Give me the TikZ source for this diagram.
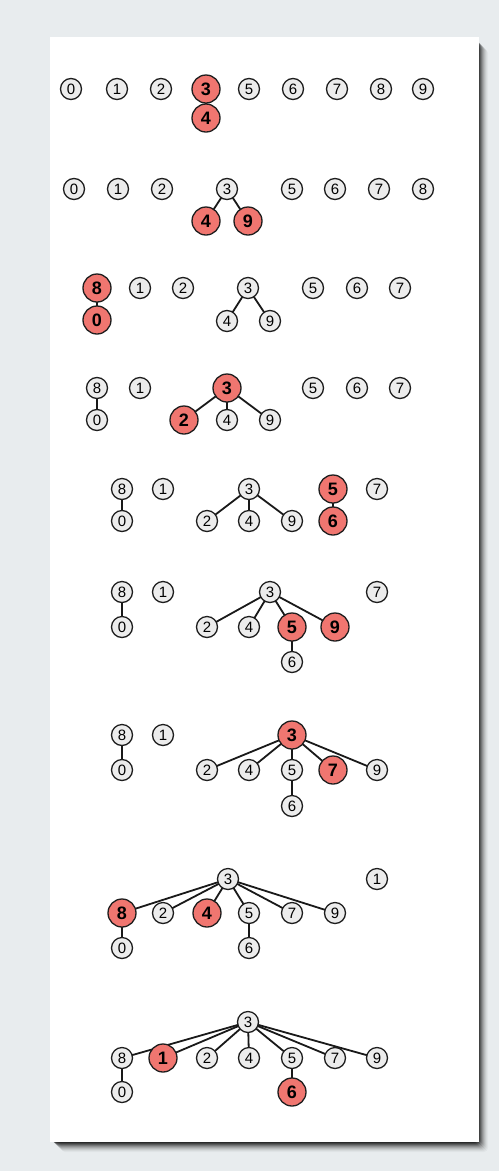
\documentclass[tikz,border=0pt]{standalone}
\usepackage{fontspec}
\setmainfont{Liberation Sans}
\pgfdeclarelayer{bg}
\pgfdeclarelayer{edges}
\pgfsetlayers{bg,edges,main}
\definecolor{pagebg}{RGB}{232,236,238}
\definecolor{nodefill}{RGB}{236,236,236}
\definecolor{nodered}{RGB}{240,118,112}
\definecolor{nodeline}{RGB}{30,30,30}
\tikzset{
  pn/.style={circle,draw=nodeline,fill=nodefill,line width=1.3pt,minimum size=21pt,inner sep=0pt,font=\fontsize{15}{15}\selectfont},
  rn/.style={circle,draw=nodeline,fill=nodered,line width=1.3pt,minimum size=28pt,inner sep=0pt,font=\fontsize{18}{18}\selectfont\bfseries},
  ed/.style={draw=black!90,line width=1.8pt}
}
\begin{document}
\begin{tikzpicture}[x=1pt,y=-1pt]
\begin{pgfonlayer}{bg}
\fill[pagebg] (0,0) rectangle (499,1171);
\foreach \o/\a in {12/0.03,11/0.04,10/0.06,9/0.08,8/0.10,7/0.13,6/0.17,5/0.22,4/0.28,3/0.35,2/0.4}{
  \fill[black,opacity=\a,rounded corners=4pt] (50+\o-1,37+\o) rectangle (479+\o-3,1142+\o-2);
}
\fill[white] (50,37) rectangle (479,1142);
\end{pgfonlayer}
% Row 1
\node[pn] (a0) at (71,89) {0};
\node[pn] (a1) at (117,89) {1};
\node[pn] (a2) at (161,89) {2};
\node[rn] (a3) at (206,89) {3};
\node[rn] (a4) at (206,118) {4};
\node[pn] (a5) at (249,89) {5};
\node[pn] (a6) at (293,89) {6};
\node[pn] (a7) at (337,89) {7};
\node[pn] (a8) at (381,89) {8};
\node[pn] (a9) at (423,89) {9};
% Row 2
\node[pn] (b0) at (74,189) {0};
\node[pn] (b1) at (118,189) {1};
\node[pn] (b2) at (162,189) {2};
\node[pn] (b3) at (227,189) {3};
\node[rn] (b4) at (206,221) {4};
\node[rn] (b9) at (248,221) {9};
\node[pn] (b5) at (292,189) {5};
\node[pn] (b6) at (335,189) {6};
\node[pn] (b7) at (379,189) {7};
\node[pn] (b8) at (423,189) {8};
% Row 3
\node[rn] (c8) at (97,288) {8};
\node[rn] (c0) at (97,320) {0};
\node[pn] (c1) at (140,288) {1};
\node[pn] (c2) at (183,288) {2};
\node[pn] (c3) at (248,288) {3};
\node[pn] (c4) at (227,321) {4};
\node[pn] (c9) at (270,321) {9};
\node[pn] (c5) at (313,288) {5};
\node[pn] (c6) at (357,288) {6};
\node[pn] (c7) at (400,288) {7};
% Row 4
\node[pn] (d8) at (97,388) {8};
\node[pn] (d0) at (97,420) {0};
\node[pn] (d1) at (140,388) {1};
\node[rn] (d3) at (227,388) {3};
\node[rn] (d2) at (184,420) {2};
\node[pn] (d4) at (227,420) {4};
\node[pn] (d9) at (270,420) {9};
\node[pn] (d5) at (313,388) {5};
\node[pn] (d6) at (357,388) {6};
\node[pn] (d7) at (400,388) {7};
% Row 5
\node[pn] (e8) at (122,489) {8};
\node[pn] (e0) at (122,521) {0};
\node[pn] (e1) at (163,489) {1};
\node[pn] (e3) at (249,489) {3};
\node[pn] (e2) at (207,521) {2};
\node[pn] (e4) at (249,521) {4};
\node[pn] (e9) at (292,521) {9};
\node[rn] (e5) at (333,489) {5};
\node[rn] (e6) at (333,521) {6};
\node[pn] (e7) at (377,489) {7};
% Row 6
\node[pn] (f8) at (122,592) {8};
\node[pn] (f0) at (122,627) {0};
\node[pn] (f1) at (163,592) {1};
\node[pn] (f3) at (270,592) {3};
\node[pn] (f2) at (207,627) {2};
\node[pn] (f4) at (249,627) {4};
\node[rn] (f5) at (292,627) {5};
\node[rn] (f9) at (335,627) {9};
\node[pn] (f6) at (292,662) {6};
\node[pn] (f7) at (377,592) {7};
% Row 7
\node[pn] (g8) at (122,735) {8};
\node[pn] (g0) at (122,770) {0};
\node[pn] (g1) at (163,735) {1};
\node[rn] (g3) at (292,735) {3};
\node[pn] (g2) at (207,770) {2};
\node[pn] (g4) at (249,770) {4};
\node[pn] (g5) at (292,770) {5};
\node[rn] (g7) at (333,770) {7};
\node[pn] (g9) at (377,770) {9};
\node[pn] (g6) at (292,806) {6};
% Row 8
\node[pn] (h3) at (228,879) {3};
\node[pn] (h1) at (377,879) {1};
\node[rn] (h8) at (122,913) {8};
\node[pn] (h2) at (163,913) {2};
\node[rn] (h4) at (207,913) {4};
\node[pn] (h5) at (249,913) {5};
\node[pn] (h7) at (292,913) {7};
\node[pn] (h9) at (335,913) {9};
\node[pn] (h0) at (122,948) {0};
\node[pn] (h6) at (249,948) {6};
% Row 9
\node[pn] (i3) at (248,1022) {3};
\node[pn] (i8) at (122,1058) {8};
\node[rn] (i1) at (163,1058) {1};
\node[pn] (i2) at (207,1058) {2};
\node[pn] (i4) at (249,1058) {4};
\node[pn] (i5) at (292,1058) {5};
\node[pn] (i7) at (335,1058) {7};
\node[pn] (i9) at (377,1058) {9};
\node[pn] (i0) at (122,1092) {0};
\node[rn] (i6) at (292,1092) {6};
\begin{pgfonlayer}{edges}
\draw[ed] (a3.center) -- (a4.center);
\draw[ed] (b3.center) -- (b4.center);
\draw[ed] (b3.center) -- (b9.center);
\draw[ed] (c8.center) -- (c0.center);
\draw[ed] (c3.center) -- (c4.center);
\draw[ed] (c3.center) -- (c9.center);
\draw[ed] (d8.center) -- (d0.center);
\draw[ed] (d3.center) -- (d2.center);
\draw[ed] (d3.center) -- (d4.center);
\draw[ed] (d3.center) -- (d9.center);
\draw[ed] (e8.center) -- (e0.center);
\draw[ed] (e3.center) -- (e2.center);
\draw[ed] (e3.center) -- (e4.center);
\draw[ed] (e3.center) -- (e9.center);
\draw[ed] (e5.center) -- (e6.center);
\draw[ed] (f8.center) -- (f0.center);
\foreach \t in {f2,f4,f5,f9} \draw[ed] (f3.center) -- (\t.center);
\draw[ed] (f5.center) -- (f6.center);
\draw[ed] (g8.center) -- (g0.center);
\foreach \t in {g2,g4,g5,g7,g9} \draw[ed] (g3.center) -- (\t.center);
\draw[ed] (g5.center) -- (g6.center);
\draw[ed] (h8.center) -- (h0.center);
\foreach \t in {h8,h2,h4,h5,h7,h9} \draw[ed] (h3.center) -- (\t.center);
\draw[ed] (h5.center) -- (h6.center);
\draw[ed] (i8.center) -- (i0.center);
\foreach \t in {i8,i1,i2,i4,i5,i7,i9} \draw[ed] (i3.center) -- (\t.center);
\draw[ed] (i5.center) -- (i6.center);
\end{pgfonlayer}
\end{tikzpicture}
\end{document}
